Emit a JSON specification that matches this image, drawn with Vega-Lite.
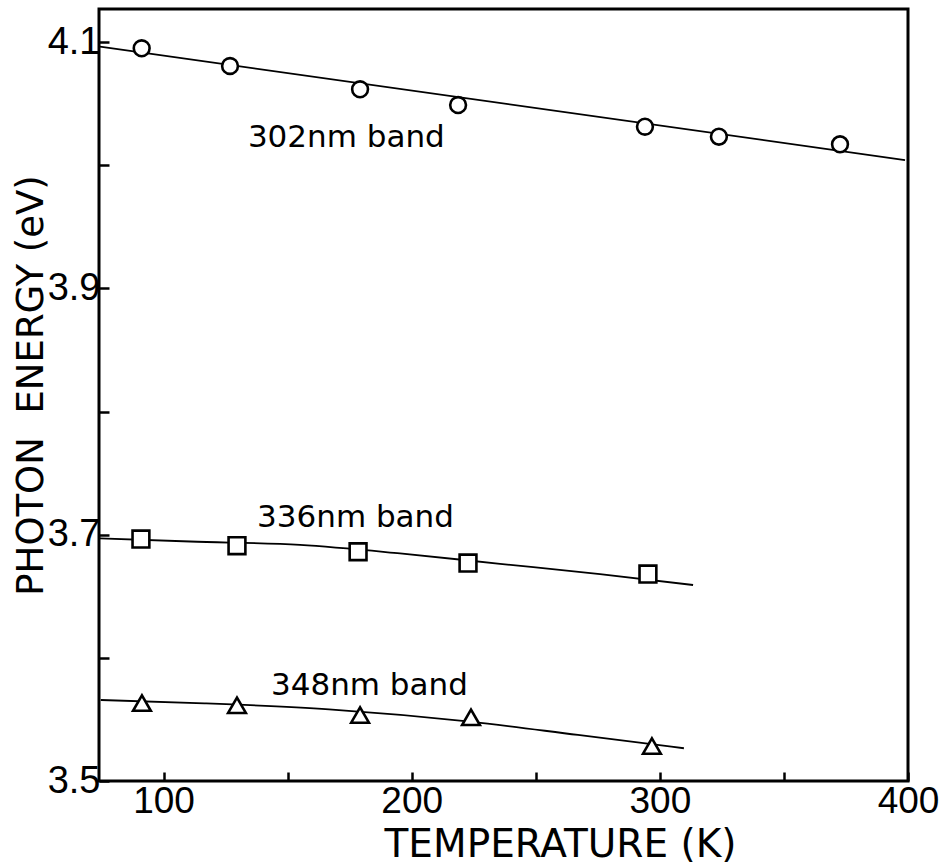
{
  "$schema": "https://vega.github.io/schema/vega-lite/v6.json",
  "width": 809,
  "height": 772,
  "autosize": {"type": "none"},
  "padding": {"left": 99, "top": 9, "right": 44, "bottom": 85},
  "background": "white",
  "config": {
    "view": {"stroke": "black", "strokeWidth": 3},
    "axis": {"grid": false, "domain": false, "labelColor": "black", "titleColor": "black", "tickColor": "black"}
  },
  "datasets": {
    "points": [
      {"band": "302nm", "T": 91.2, "E": 4.0951},
      {"band": "302nm", "T": 126.8, "E": 4.0807},
      {"band": "302nm", "T": 179.2, "E": 4.0618},
      {"band": "302nm", "T": 218.7, "E": 4.0490},
      {"band": "302nm", "T": 294.0, "E": 4.0314},
      {"band": "302nm", "T": 323.8, "E": 4.0233},
      {"band": "302nm", "T": 372.6, "E": 4.0171},
      {"band": "336nm", "T": 90.9, "E": 3.6965},
      {"band": "336nm", "T": 129.6, "E": 3.6911},
      {"band": "336nm", "T": 178.4, "E": 3.6862},
      {"band": "336nm", "T": 222.7, "E": 3.6770},
      {"band": "336nm", "T": 295.2, "E": 3.6681},
      {"band": "348nm", "T": 91.3, "E": 3.5633},
      {"band": "348nm", "T": 129.6, "E": 3.5615},
      {"band": "348nm", "T": 179.2, "E": 3.5536},
      {"band": "348nm", "T": 223.9, "E": 3.5517},
      {"band": "348nm", "T": 296.8, "E": 3.5284}
    ],
    "curves": [
      {"band": "302nm", "T": 74.4, "E": 4.0964},
      {"band": "302nm", "T": 398.8, "E": 4.0043},
      {"band": "336nm", "T": 74.4, "E": 3.6971},
      {"band": "336nm", "T": 110.7, "E": 3.6945},
      {"band": "336nm", "T": 155.0, "E": 3.6917},
      {"band": "336nm", "T": 195.3, "E": 3.6848},
      {"band": "336nm", "T": 235.6, "E": 3.6764},
      {"band": "336nm", "T": 275.9, "E": 3.6680},
      {"band": "336nm", "T": 313.4, "E": 3.6592},
      {"band": "348nm", "T": 74.7, "E": 3.5658},
      {"band": "348nm", "T": 116.5, "E": 3.5631},
      {"band": "348nm", "T": 166.7, "E": 3.5582},
      {"band": "348nm", "T": 223.5, "E": 3.5482},
      {"band": "348nm", "T": 267.0, "E": 3.5374},
      {"band": "348nm", "T": 309.7, "E": 3.5266}
    ],
    "labels": [
      {"text": "302nm band", "T": 134.0, "E": 4.0149},
      {"text": "336nm band", "T": 137.7, "E": 3.7063},
      {"text": "348nm band", "T": 143.3, "E": 3.5698}
    ]
  },
  "encoding": {
    "x": {
      "field": "T",
      "type": "quantitative",
      "scale": {"domain": [74, 400], "nice": false, "zero": false},
      "axis": {
        "values": [100, 150, 200, 250, 300, 350, 400],
        "labelExpr": "datum.value % 100 == 0 ? datum.label : ''",
        "tickSize": -9,
        "tickWidth": 2.5,
        "labelFont": "Liberation Sans",
        "labelFontSize": 37,
        "labelPadding": 11,
        "labelFlush": false,
        "labelOverlap": false,
        "labelBound": false,
        "title": "TEMPERATURE (K)",
        "titleFont": "DejaVu Sans",
        "titleFontSize": 39,
        "titleFontWeight": "normal",
        "titleX": 461,
        "titleY": 75,
        "titleAlign": "center",
        "titleBaseline": "alphabetic"
      }
    },
    "y": {
      "field": "E",
      "type": "quantitative",
      "scale": {"domain": [3.5, 4.127], "nice": false, "zero": false},
      "axis": {
        "values": [3.5, 3.6, 3.7, 3.8, 3.9, 4.0, 4.1],
        "format": ".1f",
        "labelExpr": "round(datum.value * 10) % 2 == 1 ? datum.label : ''",
        "tickSize": -10,
        "tickWidth": 2.5,
        "labelFont": "Liberation Sans Narrow, Liberation Sans",
        "labelFontSize": 38,
        "labelPadding": 9,
        "labelOverlap": false,
        "labelBound": false,
        "labelFlush": false,
        "title": "PHOTON\u00a0 ENERGY (eV)",
        "titleFont": "DejaVu Sans",
        "titleFontSize": 37,
        "titleFontWeight": "normal",
        "titleX": -57,
        "titleY": 376,
        "titleAngle": -90,
        "titleAlign": "center",
        "titleBaseline": "alphabetic"
      }
    }
  },
  "layer": [
    {
      "data": {"name": "curves"},
      "mark": {"type": "line", "interpolate": "monotone", "color": "black", "strokeWidth": 1.8},
      "encoding": {"detail": {"field": "band", "type": "nominal"}}
    },
    {
      "data": {"name": "points"},
      "mark": {"type": "point", "filled": false, "fill": "white", "fillOpacity": 1, "stroke": "black", "strokeWidth": 2.6, "opacity": 1},
      "encoding": {
        "shape": {
          "field": "band",
          "type": "nominal",
          "scale": {"domain": ["302nm", "336nm", "348nm"], "range": ["circle", "square", "triangle-up"]},
          "legend": null
        },
        "size": {
          "field": "band",
          "type": "nominal",
          "scale": {"domain": ["302nm", "336nm", "348nm"], "range": [250, 315, 330]},
          "legend": null
        }
      }
    },
    {
      "data": {"name": "labels"},
      "mark": {"type": "text", "align": "left", "baseline": "alphabetic", "font": "DejaVu Sans", "fontSize": 31, "color": "black"},
      "encoding": {"text": {"field": "text", "type": "nominal"}}
    }
  ]
}
